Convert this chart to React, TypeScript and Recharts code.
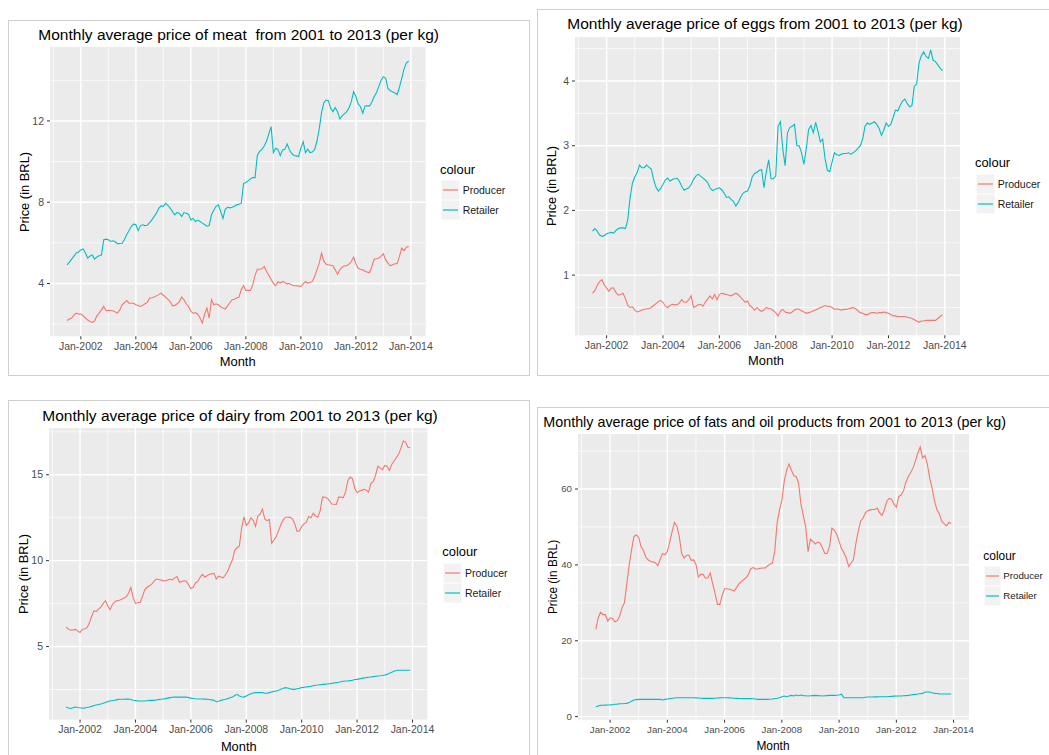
import React from 'react';
import { LineChart, Line, XAxis, YAxis, CartesianGrid } from 'recharts';

// months since Jan-2000: Jul-2001 .. Dec-2013
const months = Array.from({ length: 150 }, (_, i) => 18 + i);
const yearTicks = [24, 48, 72, 96, 120, 144, 168];
const yearMinor = [12, 36, 60, 84, 108, 132, 156];

const meatRetailer = [
  4.92, 5.05, 5.2, 5.35, 5.5, 5.55, 5.65, 5.7, 5.5, 5.25,
  5.35, 5.4, 5.2, 5.3, 5.36, 5.4, 6.15, 6.18, 6.15, 6.07,
  6.1, 6.05, 5.95, 5.97, 5.98, 6.15, 6.4, 6.6, 6.8, 6.92,
  6.9, 6.6, 6.85, 6.89, 6.85, 6.87, 7.0, 7.13, 7.3, 7.46,
  7.7, 7.82, 7.8, 7.95, 7.85, 7.7, 7.54, 7.38, 7.5, 7.45,
  7.3, 7.49, 7.46, 7.4, 7.13, 7.2, 7.05, 7.12, 7.05, 6.97,
  6.9, 6.82, 6.85, 7.38, 7.6, 7.8, 7.87, 7.55, 7.2, 7.65,
  7.75, 7.72, 7.75, 7.8, 7.87, 7.9, 7.95, 8.93, 8.97, 9.05,
  9.15, 9.21, 9.21, 10.3, 10.5, 10.6, 10.77, 11.0, 11.36, 11.72,
  10.44, 10.66, 10.6, 10.3, 10.57, 10.6, 10.87, 10.57, 10.4, 10.3,
  10.28, 10.25, 10.66, 10.98, 10.44, 10.61, 10.44, 10.47, 10.6, 11.0,
  11.6, 12.4, 12.9, 13.03, 13.0, 12.62, 12.46, 12.66, 12.45, 12.1,
  12.25, 12.35, 12.46, 12.65, 12.95, 13.44, 13.2, 12.84, 12.7, 12.38,
  12.74, 12.75, 12.74, 12.95, 13.2, 13.4, 13.7, 14.0, 14.18, 14.1,
  13.6, 13.48, 13.44, 13.38, 13.3, 13.65, 14.1, 14.55, 14.85, 14.95,
];
const meatProducer = [
  2.18, 2.25, 2.3, 2.45, 2.54, 2.5, 2.49, 2.41, 2.3, 2.2,
  2.13, 2.08, 2.15, 2.41, 2.54, 2.7, 2.87, 2.66, 2.68, 2.67,
  2.66, 2.6, 2.54, 2.7, 2.95, 3.05, 3.16, 3.03, 3.03, 3.03,
  2.95, 2.92, 2.87, 2.93, 3.0, 3.07, 3.28, 3.3, 3.33, 3.39,
  3.45, 3.52, 3.42, 3.33, 3.22, 3.11, 2.9, 2.92, 3.0, 3.11,
  3.33, 3.2, 3.0, 2.87, 2.62, 2.54, 2.56, 2.5, 2.3, 2.05,
  2.5, 2.79, 2.3, 3.2, 2.95, 3.0, 2.95, 2.85, 2.79, 2.74,
  2.9, 3.05, 3.2, 3.22, 3.28, 3.33, 3.7, 3.89, 3.66, 3.66,
  3.66, 3.93, 4.4, 4.7, 4.7, 4.72, 4.84, 4.6, 4.4, 4.2,
  4.02, 3.89, 4.1, 4.02, 4.1, 4.05, 3.98, 4.0, 3.92, 3.89,
  3.89, 3.87, 3.85, 3.98, 4.1, 4.02, 4.05, 4.1, 4.34, 4.67,
  5.0, 5.49, 5.1, 4.95, 4.92, 4.9, 4.87, 4.67, 4.45, 4.67,
  4.8, 4.87, 4.87, 4.95, 5.08, 5.3, 4.97, 4.75, 4.7, 4.67,
  4.6, 4.56, 4.54, 4.85, 5.2, 5.22, 5.25, 5.35, 5.46, 5.16,
  5.0, 4.87, 4.92, 4.97, 4.97, 5.33, 5.74, 5.62, 5.79, 5.82,
];

const eggsRetailer = [
  1.68, 1.72, 1.68, 1.62, 1.6, 1.61, 1.64, 1.65, 1.66, 1.65,
  1.69, 1.72, 1.73, 1.73, 1.72, 1.85, 2.2, 2.42, 2.52, 2.58,
  2.7, 2.66, 2.66, 2.7, 2.67, 2.64, 2.48, 2.36, 2.3, 2.34,
  2.4, 2.47, 2.5, 2.45, 2.48, 2.49, 2.5, 2.45, 2.37, 2.31,
  2.33, 2.35, 2.4, 2.48, 2.53, 2.56, 2.53, 2.5, 2.47, 2.43,
  2.35, 2.31, 2.32, 2.34, 2.35, 2.32, 2.27, 2.2, 2.21, 2.17,
  2.14, 2.07, 2.12, 2.2, 2.26, 2.29, 2.3, 2.38, 2.52, 2.57,
  2.59, 2.62, 2.63, 2.35, 2.6, 2.78, 2.49, 2.49, 2.53, 3.3,
  3.37, 2.95, 2.69, 3.2, 3.28, 3.3, 3.33, 3.0, 3.0, 2.89,
  2.71, 2.95, 3.25, 3.31, 3.2, 3.36, 3.22, 3.06, 3.1, 2.8,
  2.62, 2.6, 2.75, 2.89, 2.86, 2.85, 2.87, 2.88, 2.88, 2.89,
  2.87, 2.89, 2.92, 2.96, 3.0, 3.1, 3.3, 3.35, 3.33, 3.35,
  3.37, 3.33, 3.27, 3.16, 3.24, 3.35, 3.3, 3.33, 3.44, 3.55,
  3.54, 3.62, 3.69, 3.72, 3.65, 3.6, 3.62, 3.92, 3.95, 4.28,
  4.39, 4.45, 4.38, 4.35, 4.48, 4.32, 4.3, 4.25, 4.2, 4.16,
];
const eggsProducer = [
  0.72, 0.76, 0.84, 0.9, 0.93, 0.85, 0.8, 0.75, 0.8, 0.8,
  0.73, 0.69, 0.7, 0.72, 0.64, 0.53, 0.5, 0.51, 0.46, 0.43,
  0.44, 0.46, 0.47, 0.48, 0.48, 0.5, 0.53, 0.56, 0.59, 0.61,
  0.58, 0.52, 0.5, 0.53, 0.55, 0.54, 0.54, 0.57, 0.62, 0.58,
  0.58, 0.62, 0.68, 0.5, 0.52, 0.54, 0.55, 0.52, 0.58, 0.63,
  0.68, 0.63, 0.7, 0.62, 0.7, 0.72, 0.71, 0.7, 0.69, 0.68,
  0.7, 0.72, 0.7, 0.66, 0.62, 0.58, 0.6, 0.53, 0.5, 0.46,
  0.5, 0.46, 0.44, 0.46, 0.5, 0.48, 0.48, 0.45, 0.42, 0.37,
  0.44, 0.47, 0.43, 0.42, 0.41, 0.43, 0.46, 0.48, 0.47, 0.45,
  0.43, 0.41, 0.42, 0.43, 0.45, 0.46, 0.48, 0.5, 0.51, 0.53,
  0.52, 0.52, 0.5, 0.47, 0.48, 0.47, 0.46, 0.47, 0.47, 0.48,
  0.49, 0.5, 0.48, 0.45, 0.42, 0.41, 0.39, 0.39, 0.41, 0.42,
  0.42, 0.41, 0.42, 0.42, 0.43, 0.42, 0.41, 0.39, 0.37, 0.37,
  0.36, 0.36, 0.36, 0.36, 0.35, 0.34, 0.33, 0.31, 0.29, 0.27,
  0.29, 0.29, 0.3, 0.3, 0.3, 0.3, 0.3, 0.33, 0.36, 0.39,
];

const dairyProducer = [
  6.15, 6.0, 5.95, 5.97, 6.0, 5.9, 5.82, 6.01, 6.02, 6.1,
  6.35, 6.75, 7.08, 7.04, 7.18, 7.3, 7.5, 7.67, 7.37, 7.15,
  7.45, 7.6, 7.68, 7.7, 7.75, 7.82, 7.9, 8.1, 8.44, 7.85,
  7.51, 7.55, 7.57, 7.9, 8.3, 8.45, 8.54, 8.62, 8.8, 8.93,
  8.9, 8.87, 8.84, 8.83, 8.88, 8.93, 8.88, 9.0, 9.07, 8.74,
  8.79, 8.83, 8.8, 8.6, 8.38, 8.45, 8.7, 8.79, 9.03, 9.2,
  9.05, 9.12, 9.2, 9.24, 9.26, 8.93, 9.1, 9.05, 9.0, 9.18,
  9.4, 9.75, 10.05, 10.6, 10.75, 10.85, 11.9, 12.55, 12.05, 12.2,
  12.5, 12.35, 12.0, 12.6, 12.7, 13.0, 12.43, 12.33, 12.4, 11.01,
  11.2, 11.4, 11.75, 12.1, 12.37, 12.53, 12.53, 12.52, 12.43, 12.14,
  11.7, 11.72, 11.98, 12.14, 12.24, 12.57, 12.5, 12.76, 12.6, 12.53,
  12.9, 13.7, 13.7, 13.65, 13.5, 13.3, 13.28, 13.27, 13.7, 13.7,
  13.66, 14.0, 14.65, 14.86, 14.77, 14.2, 13.95, 14.05, 14.09, 14.15,
  14.1, 13.99, 14.5, 14.6, 14.96, 15.5, 15.4, 15.3, 15.54, 15.5,
  15.25, 15.6, 15.8, 16.0, 16.2, 16.55, 16.96, 16.9, 16.6, 16.58,
];
const dairyRetailer = [
  1.48, 1.42, 1.4, 1.44, 1.48, 1.45, 1.44, 1.41, 1.43, 1.45,
  1.48, 1.52, 1.57, 1.6, 1.63, 1.66, 1.7, 1.75, 1.8, 1.83,
  1.86, 1.88, 1.91, 1.93, 1.93, 1.93, 1.94, 1.95, 1.92, 1.88,
  1.86, 1.84, 1.83, 1.83, 1.83, 1.85, 1.87, 1.87, 1.87, 1.89,
  1.91, 1.93, 1.95, 1.97, 2.0, 2.03, 2.05, 2.06, 2.06, 2.06,
  2.06, 2.06, 2.06, 2.03, 2.0, 1.98, 1.96, 1.95, 1.95, 1.95,
  1.94, 1.93, 1.92, 1.9, 1.87, 1.79, 1.82, 1.87, 1.9, 1.93,
  1.97, 2.02, 2.06, 2.15, 2.22, 2.12, 2.08, 2.06, 2.12, 2.2,
  2.26, 2.3, 2.32, 2.32, 2.32, 2.32, 2.28, 2.28, 2.32, 2.36,
  2.39, 2.41, 2.46, 2.52, 2.57, 2.61, 2.59, 2.55, 2.51, 2.51,
  2.54, 2.57, 2.61, 2.63, 2.65, 2.67, 2.69, 2.72, 2.75, 2.76,
  2.78, 2.8, 2.8, 2.82, 2.84, 2.86, 2.88, 2.9, 2.92, 2.95,
  2.98, 3.0, 3.0, 3.02, 3.04, 3.08, 3.09, 3.12, 3.15, 3.18,
  3.19, 3.21, 3.23, 3.25, 3.27, 3.29, 3.3, 3.32, 3.35, 3.38,
  3.44, 3.5, 3.57, 3.61, 3.62, 3.62, 3.62, 3.62, 3.62, 3.62,
];

const fatsProducer = [
  22.98, 26.0, 27.5, 26.9, 26.9, 25.2, 26.05, 25.9, 25.0, 25.3,
  26.5, 28.7, 30.0, 35.0, 40.0, 44.0, 47.5, 47.9, 47.2, 44.8,
  43.8, 42.0, 41.3, 40.9, 40.8, 40.5, 39.8, 41.5, 43.0, 42.7,
  43.5, 46.0, 48.8, 51.2, 50.2, 47.5, 43.0, 41.8, 42.5, 42.6,
  41.2, 41.3, 40.1, 36.8, 37.5, 37.5, 36.5, 36.6, 37.9, 35.0,
  32.5, 29.6, 29.6, 32.0, 33.7, 33.7, 33.6, 33.4, 33.1, 34.0,
  35.0, 35.6, 36.1, 36.6, 37.5, 39.0, 39.3, 38.9, 38.9, 39.1,
  39.2, 39.2, 39.7, 40.2, 40.4, 43.5, 51.0, 54.5, 57.0, 62.0,
  65.0, 66.6, 65.0, 63.5, 63.3, 61.6, 56.0, 53.0, 50.0, 43.5,
  46.8, 46.2, 45.5, 46.0, 45.8, 44.5, 43.0, 43.0, 44.9, 49.7,
  49.2, 48.0, 46.2, 44.3, 43.2, 41.8, 39.6, 40.5, 41.4, 45.5,
  48.8, 51.5, 52.3, 53.7, 54.3, 54.5, 54.6, 54.6, 55.0, 53.7,
  53.0, 54.6, 56.8, 57.5, 57.3, 56.0, 55.2, 58.0, 58.4, 59.5,
  61.8, 63.3, 64.3, 65.5, 67.4, 69.5, 71.1, 68.2, 68.8, 66.5,
  62.8, 60.2, 56.8, 54.6, 53.5, 51.5, 50.9, 50.3, 51.2, 50.9,
];
const fatsRetailer = [
  2.63, 2.8, 2.98, 3.0, 3.05, 3.07, 3.1, 3.15, 3.25, 3.3,
  3.4, 3.42, 3.45, 3.5, 3.7, 4.05, 4.4, 4.5, 4.56, 4.56,
  4.56, 4.56, 4.56, 4.56, 4.56, 4.56, 4.56, 4.56, 4.4, 4.56,
  4.65, 4.74, 4.85, 4.92, 5.0, 5.0, 5.0, 5.0, 5.0, 5.0,
  5.0, 5.0, 4.95, 4.9, 4.85, 4.82, 4.82, 4.82, 4.82, 4.82,
  4.85, 4.9, 4.95, 5.0, 5.0, 5.0, 4.95, 4.9, 4.85, 4.82,
  4.8, 4.78, 4.76, 4.74, 4.74, 4.74, 4.7, 4.65, 4.56, 4.56,
  4.56, 4.56, 4.56, 4.6, 4.65, 4.74, 4.85, 5.0, 5.26, 5.44,
  5.26, 5.44, 5.6, 5.44, 5.7, 5.5, 5.7, 5.55, 5.5, 5.44,
  5.5, 5.55, 5.6, 5.55, 5.5, 5.44, 5.5, 5.55, 5.6, 5.6,
  5.6, 5.65, 5.7, 5.9, 5.0, 5.0, 5.0, 5.0, 5.0, 5.0,
  5.0, 5.0, 5.0, 5.1, 5.18, 5.18, 5.18, 5.2, 5.22, 5.24,
  5.26, 5.26, 5.26, 5.3, 5.35, 5.4, 5.44, 5.44, 5.46, 5.5,
  5.55, 5.6, 5.7, 5.8, 5.88, 5.95, 6.05, 6.14, 6.5, 6.5,
  6.5, 6.3, 6.14, 6.1, 6.0, 5.96, 5.96, 5.96, 5.96, 5.96,
];

const PRODUCER = '#F8766D';
const RETAILER = '#00BFC4';
const FONT = '"Liberation Sans", Arial, sans-serif';

const panels = [
  {
    title: 'Monthly average price of meat  from 2001 to 2013 (per kg)',
    producer: meatProducer, retailer: meatRetailer,
    frame: { l: 8, t: 20, w: 522, h: 356 },
    plot: { l: 50, r: 425.7, t: 46.7, b: 336 },
    yDomain: [1.4, 15.64], yTicks: [4, 8, 12], yMinor: [2, 6, 10, 14],
    titleX: 38.3, titleBase: 40, yTitle: [24.5, 191.7], xTitle: [237.7, 366.7],
    legend: { x: 440, base: 175, kx: 441, ky: 180, kw: 19, kh: 20, lx: 462.7 },
    s: 1,
  },
  {
    title: 'Monthly average price of eggs from 2001 to 2013 (per kg)',
    producer: eggsProducer, retailer: eggsRetailer,
    frame: { l: 537, t: 9, w: 530, h: 367 },
    plot: { l: 575, r: 960, t: 36.7, b: 335 },
    yDomain: [0.07, 4.68], yTicks: [1, 2, 3, 4], yMinor: [0.5, 1.5, 2.5, 3.5, 4.5],
    titleX: 567.3, titleBase: 29.3, yTitle: [552, 185.8], xTitle: [766, 366],
    legend: { x: 975, base: 168.3, kx: 976, ky: 174, kw: 19, kh: 20, lx: 997.7 },
    s: 1,
  },
  {
    title: 'Monthly average price of dairy from 2001 to 2013 (per kg)',
    producer: dairyProducer, retailer: dairyRetailer,
    frame: { l: 8, t: 400, w: 522, h: 370 },
    plot: { l: 49.3, r: 427.7, t: 427.7, b: 719.3 },
    yDomain: [0.75, 17.72], yTicks: [5, 10, 15], yMinor: [2.5, 7.5, 12.5, 17.5],
    titleX: 42.3, titleBase: 420.7, yTitle: [24.2, 573.8], xTitle: [238.8, 751.7],
    legend: { x: 442.3, base: 556.7, kx: 443, ky: 563, kw: 19, kh: 20, lx: 465 },
    s: 1,
  },
  {
    title: 'Monthly average price of fats and oil products from 2001 to 2013 (per kg)',
    producer: fatsProducer, retailer: fatsRetailer,
    frame: { l: 537, t: 406.7, w: 530, h: 370 },
    plot: { l: 578.3, r: 969.3, t: 434.3, b: 720 },
    yDomain: [-0.8, 74.5], yTicks: [0, 20, 40, 60], yMinor: [10, 30, 50, 70],
    titleX: 543.3, titleBase: 426.7, yTitle: [553.7, 577], xTitle: [773, 751],
    legend: { x: 983.3, base: 561, kx: 984, ky: 566, kw: 17, kh: 20, lx: 1003.3 },
    s: 0.925,
  },
];

function Legend({ lg, s }) {
  const lab = 10.5 * s;
  const ttl = 12.9 * s;
  const keys = [['Producer', PRODUCER], ['Retailer', RETAILER]];
  return (
    <>
      <div style={{ position: 'absolute', left: lg.x, top: lg.base - 0.85 * ttl, fontSize: ttl, lineHeight: `${ttl}px`, color: '#000' }}>colour</div>
      {keys.map(([name, col], k) => (
        <React.Fragment key={name}>
          <svg width={lg.kw} height={lg.kh} style={{ position: 'absolute', left: lg.kx, top: lg.ky + k * lg.kh }}>
            <rect x={0} y={0} width={lg.kw} height={lg.kh} fill="#F2F2F2" stroke="#FFFFFF" strokeWidth={1} />
            <line x1={2} x2={lg.kw - 2} y1={lg.kh / 2} y2={lg.kh / 2} stroke={col} strokeWidth={1.2} />
          </svg>
          <div style={{ position: 'absolute', left: lg.lx, top: lg.ky + (k + 0.5) * lg.kh - lab / 2, fontSize: lab, lineHeight: `${lab}px`, color: '#1a1a1a' }}>{name}</div>
        </React.Fragment>
      ))}
    </>
  );
}

function PricePanel({ p }) {
  const rows = months.map((m, i) => ({ month: m, Producer: p.producer[i], Retailer: p.retailer[i] }));
  const yw = 44;
  const xh = 26;
  const mr = 30;
  const w = p.plot.r - p.plot.l;
  const h = p.plot.b - p.plot.t;
  const tick = 10.5 * p.s;
  const ttl = 15.5 * p.s;
  const axt = 12.9 * p.s;
  return (
    <>
      <div style={{ position: 'absolute', left: p.frame.l, top: p.frame.t, width: p.frame.w, height: p.frame.h, border: '1px solid #D0D0D0', boxSizing: 'border-box' }} />
      <div style={{ position: 'absolute', left: p.titleX, top: p.titleBase - 0.85 * ttl, fontSize: ttl, lineHeight: `${ttl}px`, whiteSpace: 'pre', color: '#000' }}>{p.title}</div>
      <div style={{ position: 'absolute', left: p.plot.l - yw, top: p.plot.t }}>
        <LineChart width={w + yw + mr} height={h + xh} data={rows} margin={{ top: 0, right: mr, bottom: 0, left: 0 }}>
          <CartesianGrid fill="#EBEBEB" stroke="#FFFFFF" strokeWidth={0.7} horizontalValues={p.yMinor} verticalValues={yearMinor} />
          <CartesianGrid stroke="#FFFFFF" strokeWidth={1.4} horizontalValues={p.yTicks} verticalValues={yearTicks} />
          <XAxis
            type="number" dataKey="month" domain={[10.55, 174.45]} ticks={yearTicks} interval={0}
            allowDataOverflow height={xh} axisLine={false} tickSize={3} tickMargin={3}
            tickLine={{ stroke: '#333333' }}
            tick={{ fontSize: tick, fill: '#4D4D4D', fontFamily: FONT }}
            tickFormatter={(v) => `Jan-${2000 + v / 12}`}
          />
          <YAxis
            type="number" domain={p.yDomain} ticks={p.yTicks} interval={0} allowDataOverflow
            width={yw} axisLine={false} tickSize={3} tickMargin={3}
            tickLine={{ stroke: '#333333' }}
            tick={{ fontSize: tick, fill: '#4D4D4D', fontFamily: FONT }}
          />
          <Line type="linear" dataKey="Producer" stroke={PRODUCER} strokeWidth={1.1} dot={false} isAnimationActive={false} />
          <Line type="linear" dataKey="Retailer" stroke={RETAILER} strokeWidth={1.1} dot={false} isAnimationActive={false} />
        </LineChart>
      </div>
      <div style={{ position: 'absolute', left: p.yTitle[0], top: p.yTitle[1], fontSize: axt, lineHeight: `${axt}px`, whiteSpace: 'nowrap', transform: 'translate(-50%, -50%) rotate(-90deg)', color: '#000' }}>Price (in BRL)</div>
      <div style={{ position: 'absolute', left: p.xTitle[0], top: p.xTitle[1] - 0.85 * axt, fontSize: axt, lineHeight: `${axt}px`, transform: 'translateX(-50%)', color: '#000' }}>Month</div>
      <Legend lg={p.legend} s={p.s} />
    </>
  );
}

export default function App() {
  return (
    <div style={{ position: 'absolute', left: 0, top: 0, width: 1049, height: 755, overflow: 'hidden', background: '#fff', fontFamily: FONT }}>
      {panels.map((p) => <PricePanel key={p.title} p={p} />)}
    </div>
  );
}
